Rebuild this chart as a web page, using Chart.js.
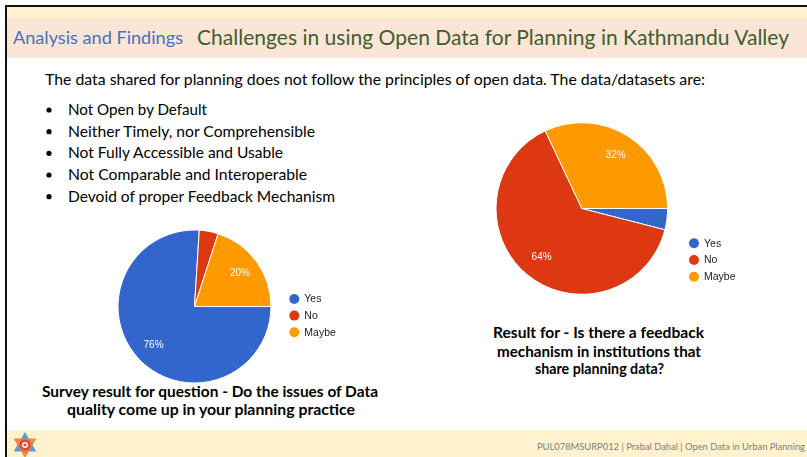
<!DOCTYPE html>
<html>
<head>
<meta charset="utf-8">
<script src="https://cdn.jsdelivr.net/npm/chart.js@4/dist/chart.umd.min.js"></script>
<style>
  html,body{margin:0;padding:0;background:#fff;}
  #page{position:relative;width:807px;height:457px;overflow:hidden;background:#fff;}
  #bg{position:absolute;left:0;top:0;}
  canvas{position:absolute;}
  #c1{left:100px;top:220px;}
  #c2{left:480px;top:110px;}
</style>
</head>
<body>
<div id="page">
<svg id="bg" width="807" height="457" xmlns="http://www.w3.org/2000/svg">
  <rect x="7" y="7" width="800" height="11" fill="#fff2cc"/>
  <rect x="7" y="18" width="800" height="40" fill="#fbe5d6"/>
  <rect x="7" y="430" width="800" height="27" fill="#fff2cc"/>
  <rect x="5" y="5" width="802" height="2" fill="#111"/>
  <rect x="5" y="5" width="2" height="452" fill="#111"/>
  <g font-family="Lato, 'Open Sans', sans-serif">
    <text x="13" y="44" font-size="18" fill="#4472c4" textLength="170" lengthAdjust="spacingAndGlyphs">Analysis and Findings</text>
    <text x="197" y="45" font-size="20.5" fill="#3f5f2d" textLength="592" lengthAdjust="spacingAndGlyphs">Challenges in using Open Data for Planning in Kathmandu Valley</text>
    <text x="45" y="85" font-size="15.3" fill="#000" textLength="660" lengthAdjust="spacingAndGlyphs">The data shared for planning does not follow the principles of open data. The data/datasets are:</text>
    <g font-size="15.3" fill="#000">
      <circle cx="49" cy="110" r="2.6"/>
      <text x="68" y="115" textLength="139" lengthAdjust="spacingAndGlyphs">Not Open by Default</text>
      <circle cx="49" cy="131.7" r="2.6"/>
      <text x="68" y="136.7" textLength="247" lengthAdjust="spacingAndGlyphs">Neither Timely, nor Comprehensible</text>
      <circle cx="49" cy="153.3" r="2.6"/>
      <text x="68" y="158.3" textLength="215" lengthAdjust="spacingAndGlyphs">Not Fully Accessible and Usable</text>
      <circle cx="49" cy="175" r="2.6"/>
      <text x="68" y="180" textLength="239" lengthAdjust="spacingAndGlyphs">Not Comparable and Interoperable</text>
      <circle cx="49" cy="196.7" r="2.6"/>
      <text x="68" y="201.7" textLength="267" lengthAdjust="spacingAndGlyphs">Devoid of proper Feedback Mechanism</text>
    </g>
    <g font-size="15.5" font-weight="bold" fill="#000">
      <text x="42" y="397" textLength="336" lengthAdjust="spacingAndGlyphs">Survey result for question - Do the issues of Data</text>
      <text x="67" y="415" textLength="288" lengthAdjust="spacingAndGlyphs">quality come up in your planning practice</text>
      <text x="493" y="338.3" textLength="211" lengthAdjust="spacingAndGlyphs">Result for - Is there a feedback</text>
      <text x="497" y="356.7" textLength="204" lengthAdjust="spacingAndGlyphs">mechanism in institutions that</text>
      <text x="535" y="374.3" textLength="129" lengthAdjust="spacingAndGlyphs">share planning data?</text>
    </g>
    <text x="537" y="450" font-size="9" fill="#7f7f7f" textLength="268" lengthAdjust="spacingAndGlyphs">PUL078MSURP012 | Prabal Dahal | Open Data in Urban Planning</text>
  </g>
  <g transform="translate(25,445)">
    <polygon points="0,-13 11.3,6.5 -11.3,6.5" fill="#5b9bd5"/>
    <polygon points="0,13 11.3,-6.5 -11.3,-6.5" fill="#ed7d31" opacity="0.9"/>
    <circle r="5.5" fill="#e8453c"/>
    <circle r="3" fill="#fff"/>
    <circle r="1.6" fill="#e8453c"/>
  </g>
</svg>
<canvas id="c1" width="260" height="170"></canvas>
<canvas id="c2" width="300" height="200"></canvas>
</div>
<script>
// ---- data ----
const categories = ['Yes', 'No', 'Maybe'];
const dataQualityValues = [76, 4, 20];      // "Do the issues of Data quality come up..."
const feedbackValues = [4, 64, 32];         // "Is there a feedback mechanism..."
const sliceColors = ['#3366cc', '#dc3912', '#ff9900'];

const pctLabels = {
  id: 'pctLabels',
  afterDatasetsDraw(chart, args, opts) {
    const ctx = chart.ctx;
    const meta = chart.getDatasetMeta(0);
    const data = chart.data.datasets[0].data;
    const total = data.reduce((a, b) => a + b, 0);
    ctx.save();
    ctx.font = opts.font;
    ctx.fillStyle = opts.color;
    ctx.textAlign = 'center';
    ctx.textBaseline = 'middle';
    meta.data.forEach((arc, i) => {
      const pct = Math.round(data[i] / total * 100);
      if (pct < opts.minPct) return;
      const p = arc.getProps(['x', 'y', 'startAngle', 'endAngle', 'outerRadius'], true);
      const mid = (p.startAngle + p.endAngle) / 2;
      const r = p.outerRadius * opts.radiusFactor;
      ctx.fillText(pct + '%', p.x + Math.cos(mid) * r, p.y + Math.sin(mid) * r);
    });
    ctx.restore();
  }
};

const dotLegend = {
  id: 'dotLegend',
  afterDraw(chart, args, opts) {
    const ctx = chart.ctx;
    const ds = chart.data.datasets[0];
    ctx.save();
    chart.data.labels.forEach((lab, i) => {
      const y = opts.y + i * opts.gap;
      ctx.beginPath();
      ctx.arc(opts.x, y, opts.r, 0, Math.PI * 2);
      ctx.fillStyle = ds.backgroundColor[i];
      ctx.fill();
      ctx.fillStyle = opts.color;
      ctx.font = opts.font;
      ctx.textAlign = 'left';
      ctx.textBaseline = 'middle';
      ctx.fillText(lab, opts.x + opts.textGap, y + 0.5);
    });
    ctx.restore();
  }
};

function makePie(id, values, padding, legendPos) {
  return new Chart(document.getElementById(id), {
    type: 'pie',
    data: {
      labels: categories,
      datasets: [{
        data: values,
        backgroundColor: sliceColors,
        borderColor: '#ffffff',
        borderWidth: 1
      }]
    },
    options: {
      responsive: false,
      devicePixelRatio: 1,
      animation: false,
      rotation: 90,
      layout: { padding: padding },
      plugins: {
        legend: { display: false },
        tooltip: { enabled: false },
        pctLabels: { font: '10px "Liberation Sans", Arial, sans-serif', color: '#ffffff', minPct: 10, radiusFactor: 0.735 },
        dotLegend: Object.assign({ r: 5, textGap: 10, color: '#222222', font: '10.5px "Liberation Sans", Arial, sans-serif' }, legendPos)
      }
    },
    plugins: [pctLabels, dotLegend]
  });
}

makePie('c1', dataQualityValues,
  { left: 17.5, top: 9.5, right: 88.5, bottom: 6.5 },
  { x: 194.3, y: 79, gap: 16.6 });
makePie('c2', feedbackValues,
  { left: 15.5, top: 12.2, right: 111.9, bottom: 15.2 },
  { x: 214, y: 133.3, gap: 16.7 });
</script>
</body>
</html>
